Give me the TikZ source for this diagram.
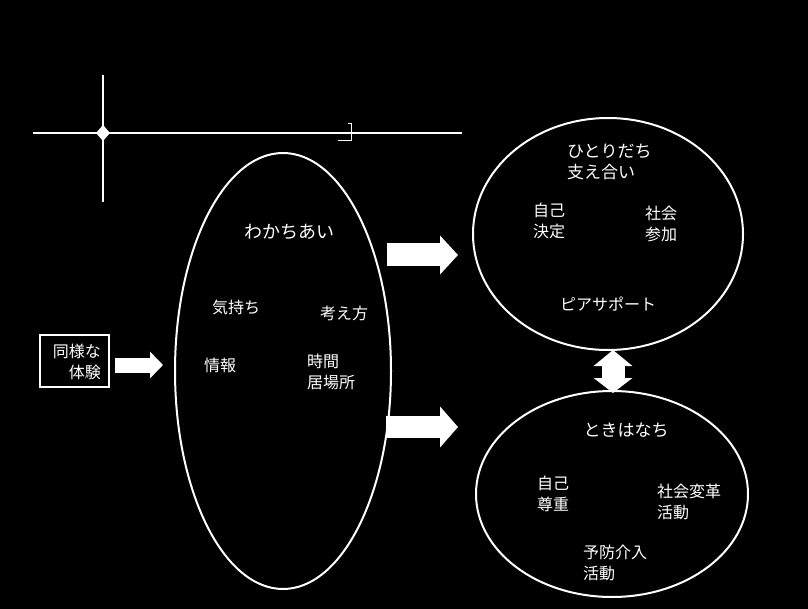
\documentclass[tikz,border=0pt]{standalone}
\usepackage{fontspec}
\newfontfamily\jp{Noto Sans CJK JP}
\usetikzlibrary{arrows.meta,shapes.geometric}
\begin{document}
\begin{tikzpicture}[x=1pt,y=-1pt,
  lbl/.style={text=white, font=\jp\fontsize{16}{21}\selectfont, inner sep=0pt, align=left},
  ttl/.style={lbl, font=\jp\fontsize{18}{22}\selectfont},
  ring/.style={draw=white, line width=2pt, ellipse, inner sep=0pt},
  fat/.style={white, line width=#1, line cap=butt},
  thin/.style={white, line width=1.4pt}]
\useasboundingbox (0,0) rectangle (808,609);
\fill[black] (0,0) rectangle (808,609);

% crosshair
\coordinate (hl) at (33,133);
\coordinate (hr) at (462,133);
\coordinate (vt) at (103,75);
\coordinate (vb) at (103,202);
\draw[thin] (hl) -- (hr);
\draw[thin] (vt) -- (vb);
\fill[white] (96,133) -- (103,125) -- (110,133) -- (103,141) -- cycle;
\draw[white, line width=1pt] (348,124) -- (351,124) -- (351,141) -- (338,141);

% ellipses
\node[ring, minimum width=216pt, minimum height=436pt] (wak) at (283,371) {};
\node[ring, minimum width=270pt, minimum height=232pt] (hit) at (608,234) {};
\node[ring, minimum width=272pt, minimum height=206pt] (tok) at (612,494) {};

% source box
\node[draw=white, line width=2pt, minimum width=69pt, minimum height=52pt, inner sep=0pt] (box) at (74.5,361) {};
\node[lbl, align=right, anchor=east] (boxt) at (101,362) {同様な\\体験};

% left ellipse texts
\node[ttl] (t1) at (289,232) {わかちあい};
\node[lbl] (t2) at (236,307) {気持ち};
\node[lbl] (t3) at (344,313) {考え方};
\node[lbl] (t4) at (220,365) {情報};
\node[lbl, anchor=west] (t5) at (307,372) {時間\\居場所};

% top right texts
\node[lbl, anchor=west, font=\jp\fontsize{17}{21}\selectfont] (r1) at (567,162) {ひとりだち\\支え合い};
\node[lbl, anchor=west] (r2) at (533,221) {自己\\決定};
\node[lbl, anchor=west] (r3) at (645,224) {社会\\参加};
\node[lbl] (r4) at (608,304) {ピアサポート};

% bottom right texts
\node[lbl, font=\jp\fontsize{17}{21}\selectfont] (b1) at (626,430) {ときはなち};
\node[lbl, anchor=west] (b2) at (537,494) {自己\\尊重};
\node[lbl, anchor=west] (b3) at (657,502) {社会変革\\活動};
\node[lbl, anchor=west] (b4) at (583,563) {予防介入\\活動};

% block arrows
\coordinate (a1s) at (115,365);
\coordinate (a1e) at (163,365);
\draw[fat=15pt, -{Triangle[length=13pt,width=26pt]}] (a1s) -- (a1e);
\coordinate (a2s) at (387,255);
\coordinate (a2e) at (458,255);
\draw[fat=23pt, -{Triangle[length=18pt,width=38pt]}] (a2s) -- (a2e);
\coordinate (a3s) at (386,427);
\coordinate (a3e) at (458,427);
\draw[fat=22pt, -{Triangle[length=18pt,width=40pt]}] (a3s) -- (a3e);
\coordinate (dt) at (613,350);
\coordinate (db) at (613,393);
\draw[fat=23pt, {Triangle[length=16pt,width=38pt]}-{Triangle[length=15pt,width=38pt]}] (dt) -- (db);
\end{tikzpicture}
\end{document}
